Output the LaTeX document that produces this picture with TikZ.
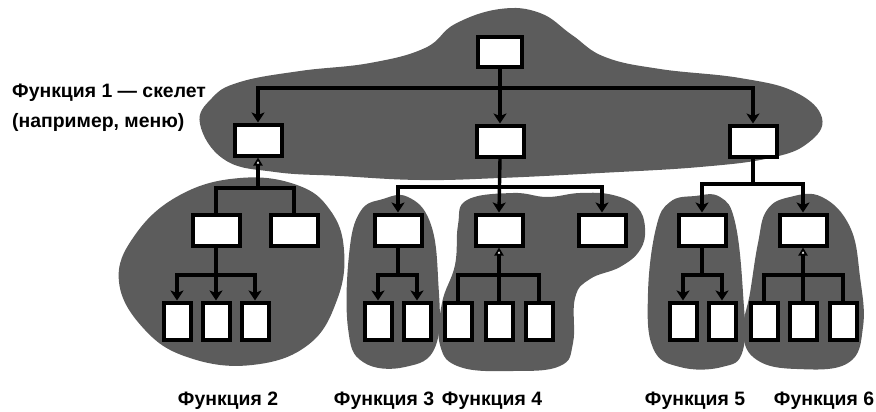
\documentclass[tikz,border=0pt]{standalone}
\usepackage{fontspec}
\setmainfont{Liberation Sans}
\usetikzlibrary{arrows.meta}
\definecolor{blobgray}{gray}{0.36}
\begin{document}
\begin{tikzpicture}[x=1pt,y=-1pt,
  blob/.style={fill=blobgray},
  bx/.style={draw=black, fill=white, line width=4pt, inner sep=0pt},
  topbox/.style={bx, minimum width=44pt, minimum height=30pt},
  midbox/.style={bx, minimum width=47pt, minimum height=31pt},
  smallbox/.style={bx, minimum width=27pt, minimum height=37pt},
  conn/.style={line width=3.4pt},
  arr/.style={conn, -{Stealth[length=10pt,width=13pt,inset=2.5pt]}},
  uparr/.style={conn, -{Triangle[length=8pt,width=9pt,fill=white,line width=1.8pt]}},
  lbl/.style={font=\fontsize{19.4}{23}\selectfont\bfseries, inner sep=0pt}
]
\useasboundingbox (0,0) rectangle (876,412);

% blobs
\fill[blob] plot[smooth cycle, tension=0.7] coordinates {(200,124) (212,98) (240,82) (300,71) (370,63) (425,48) (455,24) (500,9) (540,13) (572,35) (605,57) (660,69) (740,78) (795,92) (822,118) (808,143) (770,158) (700,167) (600,173) (500,178) (420,180) (340,176) (275,172) (225,160)};
\fill[blob] plot[smooth cycle, tension=0.7] coordinates {(119,282) (135,235) (180,195) (240,178) (297,185) (330,210) (344,250) (337,300) (308,345) (252,365) (190,358) (145,330)};
\fill[blob] plot[smooth cycle, tension=0.7] coordinates {(360,212) (383,199) (408,197) (430,222) (438,277) (436,345) (405,367) (363,362) (348,328) (349,255)};
\fill[blob] plot[smooth cycle, tension=0.7] coordinates {(467,200) (513,193) (547,197) (580,193) (613,195) (637,207) (645,228) (640,250) (620,267) (590,279) (575,298) (573,343) (560,366) (513,371) (460,367) (440,345) (442,303) (455,265) (458,225)};
\fill[blob] plot[smooth cycle, tension=0.7] coordinates {(670,202) (695,196) (720,197) (735,222) (743,293) (743,350) (722,367) (680,367) (653,348) (648,293) (656,228)};
\fill[blob] plot[smooth cycle, tension=0.7] coordinates {(767,210) (790,197) (822,197) (850,227) (860,277) (863,327) (848,363) (797,369) (757,360) (743,333) (750,293) (758,243)};

% boxes
\node[topbox] (top) at (500,52) {};
\node[midbox] (a1) at (258,140) {};
\node[midbox] (a2) at (500,141) {};
\node[midbox] (a3) at (753,141) {};
\node[midbox] (f2a) at (216,230) {};
\node[midbox] (f2b) at (294,230) {};
\node[midbox] (f3) at (398,230) {};
\node[midbox] (f4a) at (499,230) {};
\node[midbox] (f4b) at (602,230) {};
\node[midbox] (f5) at (702,230) {};
\node[midbox] (f6) at (803,230) {};
\node[smallbox] (s20) at (177,321) {};
\node[smallbox] (s21) at (216,321) {};
\node[smallbox] (s22) at (255,321) {};
\node[smallbox] (s30) at (378,321) {};
\node[smallbox] (s31) at (417,321) {};
\node[smallbox] (s40) at (458,321) {};
\node[smallbox] (s41) at (499,321) {};
\node[smallbox] (s42) at (539,321) {};
\node[smallbox] (s50) at (683,321) {};
\node[smallbox] (s51) at (722,321) {};
\node[smallbox] (s60) at (764,321) {};
\node[smallbox] (s61) at (803,321) {};
\node[smallbox] (s62) at (843,321) {};

% bus levels
\coordinate (b1) at (0,88);
\coordinate (b2) at (0,188);
\coordinate (bm) at (0,187);
\coordinate (br) at (0,184);
\coordinate (bb) at (0,275);

% level 0 -> 1
\draw[arr] (top.south) -- (a2.north);
\draw[arr] (top.south |- b1) -| (a1.north);
\draw[arr] (top.south |- b1) -| (a3.north);

% function 2 (up to a1)
\draw[conn] (f2a.north) |- (f2b.north |- b2) -- (f2b.north);
\draw[uparr] (a1.south |- b2) -- (a1.south);
\draw[arr] (f2a.south) -- (s21.north);
\draw[arr] (f2a.south |- bb) -| (s20.north);
\draw[arr] (f2a.south |- bb) -| (s22.north);

% middle
\draw[arr] (a2.south) -- (f4a.north);
\draw[arr] (a2.south |- bm) -| (f3.north);
\draw[arr] (a2.south |- bm) -| (f4b.north);

% right
\draw[conn] (a3.south) -- (a3.south |- br);
\draw[arr] (a3.south |- br) -| (f5.north);
\draw[arr] (a3.south |- br) -| (f6.north);

% function 3
\draw[conn] (f3.south) -- (f3.south |- bb);
\draw[arr] (f3.south |- bb) -| (s30.north);
\draw[arr] (f3.south |- bb) -| (s31.north);

% function 4
\draw[conn] (s40.north) |- (s42.north |- bb) -- (s42.north);
\draw[uparr] (s41.north) -- (f4a.south);

% function 5
\draw[conn] (f5.south) -- (f5.south |- bb);
\draw[arr] (f5.south |- bb) -| (s50.north);
\draw[arr] (f5.south |- bb) -| (s51.north);

% function 6
\draw[conn] (s60.north) |- (s62.north |- bb) -- (s62.north);
\draw[uparr] (s61.north) -- (f6.south);

% labels
\node[lbl, anchor=base west] (l1a) at (12,97) {Функция 1 — скелет};
\node[lbl, anchor=base west] (l1b) at (12,127) {(например, меню)};
\node[lbl, anchor=base] (l2) at (228,405) {Функция 2};
\node[lbl, anchor=base] (l3) at (384,405) {Функция 3};
\node[lbl, anchor=base] (l4) at (492,405) {Функция 4};
\node[lbl, anchor=base] (l5) at (695,405) {Функция 5};
\node[lbl, anchor=base] (l6) at (824,405) {Функция 6};
\end{tikzpicture}
\end{document}
